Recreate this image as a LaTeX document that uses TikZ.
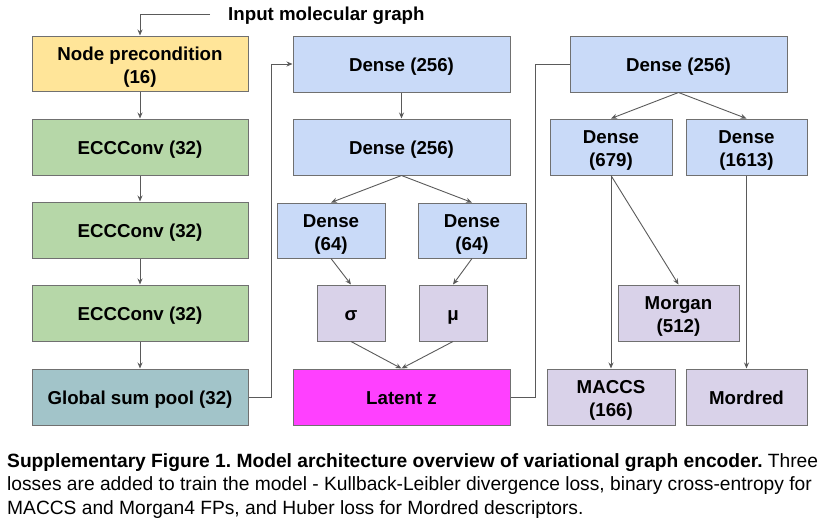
\documentclass[tikz,border=0pt]{standalone}
\usepackage{fontspec}
\setmainfont{Liberation Sans}
\usetikzlibrary{arrows.meta}
\frenchspacing
\definecolor{cyel}{HTML}{FFE599}
\definecolor{cgrn}{HTML}{B6D7A8}
\definecolor{cblu}{HTML}{C9DAF8}
\definecolor{cpur}{HTML}{D9D2E9}
\definecolor{ccya}{HTML}{A2C4C9}
\definecolor{cmag}{HTML}{FF40FF}
\definecolor{cbord}{HTML}{707070}
\definecolor{carr}{HTML}{5A5A5A}
\tikzset{
  box/.style={draw=cbord, line width=1pt, inner sep=0pt, align=center,
    font=\fontsize{18.7}{23}\selectfont\bfseries, text=black,
    text height=14pt, text depth=0pt},
  boxtwo/.style={box, text height=39pt, text depth=0pt},
  arr/.style={draw=carr, line width=0.9pt, -{Stealth[length=6pt,width=5pt]}},
  ln/.style={draw=carr, line width=0.9pt},
  captionline/.style={anchor=base west, inner sep=0pt, font=\fontsize{19.2}{23.5}\selectfont}
}
\begin{document}
\begin{tikzpicture}[x=1pt,y=-1pt]
\useasboundingbox (0,0) rectangle (832,528);
% left column
\node[boxtwo, fill=cyel, minimum width=216pt, minimum height=55pt] (np) at (140,63.5) {Node precondition\\(16)};
\node[box, fill=cgrn, minimum width=216pt, minimum height=56pt] (ec1) at (140,147) {ECCConv (32)};
\node[box, fill=cgrn, minimum width=216pt, minimum height=56pt] (ec2) at (140,230) {ECCConv (32)};
\node[box, fill=cgrn, minimum width=216pt, minimum height=56pt] (ec3) at (140,313) {ECCConv (32)};
\node[box, fill=ccya, minimum width=216pt, minimum height=56pt] (gsp) at (140,397) {Global sum pool (32)};
% middle column
\node[box, fill=cblu, minimum width=217pt, minimum height=56pt] (d1) at (401.5,64) {Dense (256)};
\node[box, fill=cblu, minimum width=217pt, minimum height=56pt] (d2) at (401.5,147) {Dense (256)};
\node[boxtwo, fill=cblu, minimum width=108pt, minimum height=55pt] (da) at (331,230.5) {Dense\\(64)};
\node[boxtwo, fill=cblu, minimum width=108pt, minimum height=55pt] (db) at (472,230.5) {Dense\\(64)};
\node[box, fill=cpur, minimum width=68pt, minimum height=56pt] (sig) at (351,313) {σ};
\node[box, fill=cpur, minimum width=68pt, minimum height=56pt] (mu) at (453,313) {μ};
\node[box, fill=cmag, minimum width=217pt, minimum height=56pt] (lat) at (401.5,397) {Latent z};
% right column
\node[box, fill=cblu, minimum width=217pt, minimum height=56pt] (r1) at (678.5,64) {Dense (256)};
\node[boxtwo, fill=cblu, minimum width=122pt, minimum height=56pt] (d679) at (611,147) {Dense\\(679)};
\node[boxtwo, fill=cblu, minimum width=121pt, minimum height=56pt] (d1613) at (746.5,147) {Dense\\(1613)};
\node[boxtwo, fill=cpur, minimum width=121pt, minimum height=56pt] (morgan) at (678.5,313) {Morgan\\(512)};
\node[boxtwo, fill=cpur, minimum width=128pt, minimum height=56pt] (maccs) at (611,397) {MACCS\\(166)};
\node[box, fill=cpur, minimum width=121pt, minimum height=56pt] (mordred) at (746.5,397) {Mordred};
% input
\node[anchor=west, inner sep=0pt, font=\fontsize{18.7}{22}\selectfont\bfseries] (inp) at (228,15.3) {Input molecular graph};
\coordinate (inptail) at (210,14);
\draw[arr] (inptail) -| (np.north);
% connectors
\draw[arr] (np) -- (ec1);
\draw[arr] (ec1) -- (ec2);
\draw[arr] (ec2) -- (ec3);
\draw[arr] (ec3) -- (gsp);
\draw[arr] (gsp.east) -- ++(23,0) |- (d1.west);
\draw[arr] (d1) -- (d2);
\draw[arr] (d2.south) -- (da.north);
\draw[arr] (d2.south) -- (db.north);
\draw[arr] (da.south) -- (sig.north);
\draw[arr] (db.south) -- (mu.north);
\draw[arr] (sig.south) -- (lat.north);
\draw[arr] (mu.south) -- (lat.north);
\draw[ln] (lat.east) -- ++(25,0) |- (r1.west);
\draw[arr] (r1.south) -- (d679.north);
\draw[arr] (r1.south) -- (d1613.north);
\draw[arr] (d679.south) -- (maccs.north);
\draw[arr] (d679.south) -- (morgan.north);
\draw[arr] (d1613.south) -- (mordred.north);
% caption
\node[captionline] (c1) at (7,467) {\textbf{Supplementary Figure 1. Model architecture overview of variational graph encoder.} Three};
\node[captionline] (c2) at (7,490.5) {losses are added to train the model - Kullback-Leibler divergence loss, binary cross-entropy for};
\node[captionline] (c3) at (7,514) {MACCS and Morgan4 FPs, and Huber loss for Mordred descriptors.};
\end{tikzpicture}
\end{document}
